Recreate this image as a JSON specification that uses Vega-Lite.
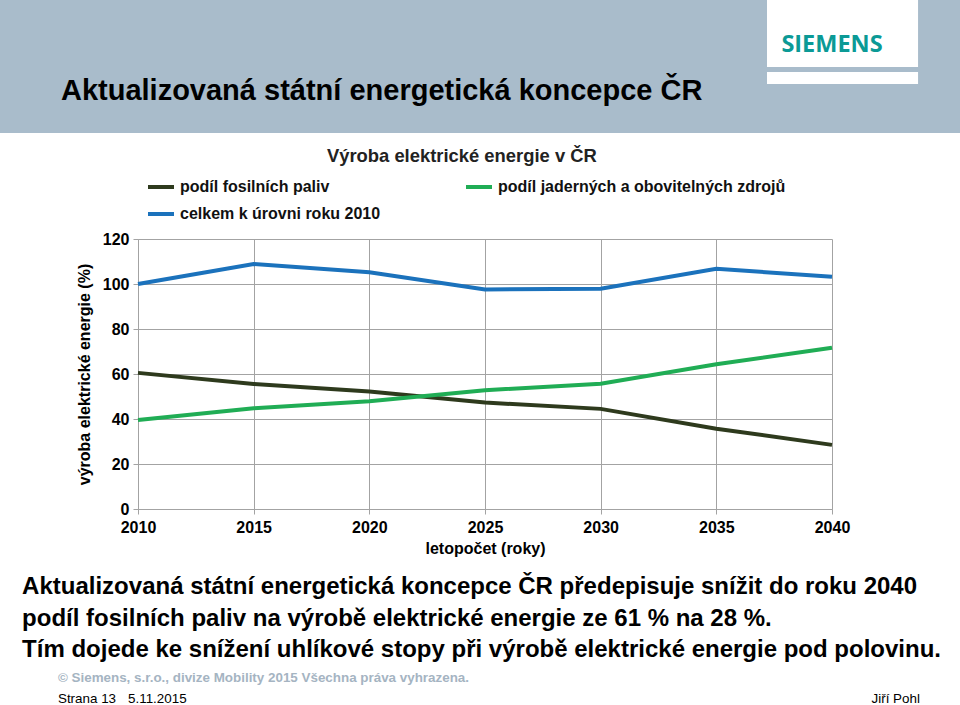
{
  "$schema": "https://vega.github.io/schema/vega-lite/v6.json",
  "width": 694,
  "height": 270,
  "autosize": {"type": "none"},
  "padding": {"left": 138, "top": 239, "right": 128, "bottom": 196},
  "background": "white",
  "config": {"font": "Liberation Sans", "view": {"stroke": null}},
  "datasets": {
    "series": [
      {"series": "podíl fosilních paliv", "year": 2010, "value": 60.5},
      {"series": "podíl fosilních paliv", "year": 2015, "value": 55.6},
      {"series": "podíl fosilních paliv", "year": 2020, "value": 52.2},
      {"series": "podíl fosilních paliv", "year": 2025, "value": 47.3},
      {"series": "podíl fosilních paliv", "year": 2030, "value": 44.5},
      {"series": "podíl fosilních paliv", "year": 2035, "value": 35.7},
      {"series": "podíl fosilních paliv", "year": 2040, "value": 28.5},
      {"series": "podíl jaderných a obovitelných zdrojů", "year": 2010, "value": 39.6},
      {"series": "podíl jaderných a obovitelných zdrojů", "year": 2015, "value": 44.8},
      {"series": "podíl jaderných a obovitelných zdrojů", "year": 2020, "value": 47.9},
      {"series": "podíl jaderných a obovitelných zdrojů", "year": 2025, "value": 52.8},
      {"series": "podíl jaderných a obovitelných zdrojů", "year": 2030, "value": 55.7},
      {"series": "podíl jaderných a obovitelných zdrojů", "year": 2035, "value": 64.3},
      {"series": "podíl jaderných a obovitelných zdrojů", "year": 2040, "value": 71.7},
      {"series": "celkem k úrovni roku 2010", "year": 2010, "value": 100},
      {"series": "celkem k úrovni roku 2010", "year": 2015, "value": 108.9},
      {"series": "celkem k úrovni roku 2010", "year": 2020, "value": 105.2},
      {"series": "celkem k úrovni roku 2010", "year": 2025, "value": 97.6},
      {"series": "celkem k úrovni roku 2010", "year": 2030, "value": 97.9},
      {"series": "celkem k úrovni roku 2010", "year": 2035, "value": 106.8},
      {"series": "celkem k úrovni roku 2010", "year": 2040, "value": 103.2}
    ],
    "one": [{}]
  },
  "layer": [
    {
      "data": {"name": "series"},
      "mark": {"type": "line", "strokeWidth": 4},
      "encoding": {
        "x": {
          "field": "year",
          "type": "quantitative",
          "scale": {"domain": [2010, 2040], "nice": false, "zero": false},
          "axis": {
            "title": "letopočet (roky)",
            "values": [2010, 2015, 2020, 2025, 2030, 2035, 2040],
            "format": "d",
            "grid": true,
            "gridColor": "#a3a3a3",
            "gridOpacity": 1,
            "domainColor": "#a3a3a3",
            "tickColor": "#a3a3a3",
            "tickSize": 5,
            "labelFontSize": 16,
            "labelFontWeight": "bold",
            "labelColor": "#000000",
            "labelPadding": 5,
            "labelFlush": false,
            "titleFontSize": 16,
            "titleFontWeight": "bold",
            "titleColor": "#000000",
            "titlePadding": 5
          }
        },
        "y": {
          "field": "value",
          "type": "quantitative",
          "scale": {"domain": [0, 120], "nice": false},
          "axis": {
            "title": "výroba elektrické energie (%)",
            "values": [0, 20, 40, 60, 80, 100, 120],
            "grid": true,
            "gridColor": "#a3a3a3",
            "gridOpacity": 1,
            "domainColor": "#a3a3a3",
            "tickColor": "#a3a3a3",
            "tickSize": 5,
            "labelFontSize": 16,
            "labelFontWeight": "bold",
            "labelColor": "#000000",
            "labelPadding": 4,
            "titleFontSize": 16,
            "titleFontWeight": "bold",
            "titleColor": "#000000",
            "titlePadding": 10
          }
        },
        "color": {
          "field": "series",
          "type": "nominal",
          "sort": ["podíl fosilních paliv", "celkem k úrovni roku 2010", "podíl jaderných a obovitelných zdrojů"],
          "scale": {
            "domain": ["podíl fosilních paliv", "celkem k úrovni roku 2010", "podíl jaderných a obovitelných zdrojů"],
            "range": ["#2e3a1d", "#1b72bc", "#20ad55"]
          },
          "legend": {
            "title": null,
            "orient": "none",
            "legendX": 8,
            "legendY": -67,
            "columns": 2,
            "columnPadding": 77,
            "rowPadding": 4,
            "symbolType": "stroke",
            "symbolSize": 676,
            "symbolStrokeWidth": 4,
            "labelOffset": 4,
            "labelFontSize": 16,
            "labelFontWeight": "bold",
            "labelColor": "#111111",
            "labelLimit": 500
          }
        }
      }
    },
    {
      "data": {"name": "one"},
      "mark": {"type": "rect", "color": "#a9bccb"},
      "encoding": {
        "x": {"datum": 2004.0, "type": "quantitative"},
        "x2": {"datum": 2045.6},
        "y": {"datum": 226.3, "type": "quantitative"},
        "y2": {"datum": 167.1}
      }
    },
    {
      "data": {"name": "one"},
      "mark": {"type": "rect", "color": "#ffffff"},
      "encoding": {
        "x": {"datum": 2037.19, "type": "quantitative"},
        "x2": {"datum": 2043.72},
        "y": {"datum": 226.3, "type": "quantitative"},
        "y2": {"datum": 196.44}
      }
    },
    {
      "data": {"name": "one"},
      "mark": {"type": "rect", "color": "#ffffff"},
      "encoding": {
        "x": {"datum": 2037.19, "type": "quantitative"},
        "x2": {"datum": 2043.72},
        "y": {"datum": 194.22, "type": "quantitative"},
        "y2": {"datum": 188.89}
      }
    },
    {
      "data": {"name": "one"},
      "mark": {"type": "text", "text": "SIEMENS", "font": "Open Sans", "fontSize": 23.5, "fontWeight": "bold", "color": "#0b9a96", "align": "center", "baseline": "alphabetic"},
      "encoding": {
        "x": {"datum": 2040.0, "type": "quantitative"},
        "y": {"datum": 203.1, "type": "quantitative"}
      }
    },
    {
      "data": {"name": "one"},
      "mark": {"type": "text", "text": "Aktualizovaná státní energetická koncepce ČR", "fontSize": 29, "fontWeight": "bold", "color": "#000000", "align": "left", "baseline": "alphabetic"},
      "encoding": {
        "x": {"datum": 2006.67, "type": "quantitative"},
        "y": {"datum": 182.0, "type": "quantitative"}
      }
    },
    {
      "data": {"name": "one"},
      "mark": {"type": "text", "text": "Výroba elektrické energie v ČR", "fontSize": 18.4, "fontWeight": "bold", "color": "#222222", "align": "center", "baseline": "alphabetic"},
      "encoding": {
        "x": {"datum": 2024.0, "type": "quantitative"},
        "y": {"datum": 154.2, "type": "quantitative"}
      }
    },
    {
      "data": {"name": "one"},
      "mark": {"type": "text", "text": ["Aktualizovaná státní energetická koncepce ČR předepisuje snížit do roku 2040", "podíl fosilních paliv na výrobě elektrické energie ze 61 % na 28 %.", "Tím dojede ke snížení uhlíkové stopy při výrobě elektrické energie pod polovinu."], "lineHeight": 31.5, "fontSize": 24, "fontWeight": "bold", "color": "#000000", "align": "left", "baseline": "alphabetic"},
      "encoding": {
        "x": {"datum": 2004.99, "type": "quantitative"},
        "y": {"datum": -37.8, "type": "quantitative"}
      }
    },
    {
      "data": {"name": "one"},
      "mark": {"type": "text", "text": "© Siemens, s.r.o., divize Mobility  2015  Všechna práva vyhrazena.", "fontSize": 13.4, "fontWeight": "bold", "color": "#a5b4c2", "align": "left", "baseline": "alphabetic"},
      "encoding": {
        "x": {"datum": 2006.54, "type": "quantitative"},
        "y": {"datum": -76.9, "type": "quantitative"}
      }
    },
    {
      "data": {"name": "one"},
      "mark": {"type": "text", "text": "Strana 13", "fontSize": 13.4, "color": "#000000", "align": "left", "baseline": "alphabetic"},
      "encoding": {
        "x": {"datum": 2006.54, "type": "quantitative"},
        "y": {"datum": -86.0, "type": "quantitative"}
      }
    },
    {
      "data": {"name": "one"},
      "mark": {"type": "text", "text": "5.11.2015", "fontSize": 13.4, "color": "#000000", "align": "left", "baseline": "alphabetic"},
      "encoding": {
        "x": {"datum": 2009.57, "type": "quantitative"},
        "y": {"datum": -86.0, "type": "quantitative"}
      }
    },
    {
      "data": {"name": "one"},
      "mark": {"type": "text", "text": "Jiří Pohl", "fontSize": 13.4, "color": "#000000", "align": "right", "baseline": "alphabetic"},
      "encoding": {
        "x": {"datum": 2043.8, "type": "quantitative"},
        "y": {"datum": -86.0, "type": "quantitative"}
      }
    }
  ]
}
